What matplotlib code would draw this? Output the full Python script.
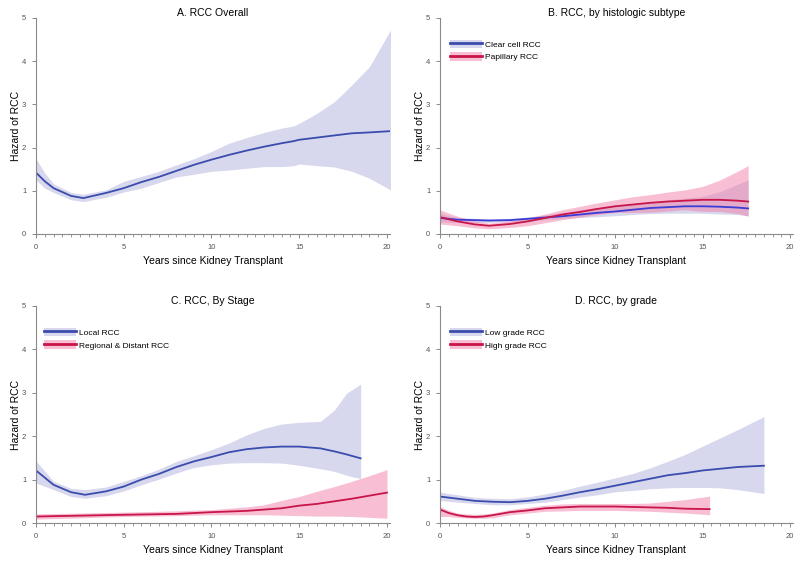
import matplotlib
matplotlib.use("Agg")
import matplotlib.pyplot as plt
from matplotlib.patches import Patch
from matplotlib.lines import Line2D
from matplotlib.ticker import MultipleLocator

plt.rcParams['font.family'] = ['Liberation Sans', 'DejaVu Sans']

# A. overall
xa = [0, 0.5, 1, 2, 2.7, 4, 5, 6, 7, 8, 9, 10, 11, 12, 13, 14, 14.7, 15, 16, 17, 18, 19, 20.2]
a_fit = [1.42, 1.22, 1.06, 0.88, 0.83, 0.95, 1.06, 1.2, 1.32, 1.46, 1.6, 1.72, 1.83, 1.93,
         2.02, 2.1, 2.15, 2.18, 2.23, 2.28, 2.33, 2.35, 2.38]
a_hi = [1.74, 1.41, 1.16, 0.96, 0.92, 1.02, 1.22, 1.33, 1.45, 1.6, 1.74, 1.91, 2.1, 2.23,
        2.35, 2.45, 2.5, 2.56, 2.79, 3.06, 3.45, 3.87, 4.72]
a_lo = [1.25, 1.06, 0.96, 0.79, 0.75, 0.85, 0.97, 1.06, 1.19, 1.32, 1.38, 1.45, 1.48, 1.52,
        1.56, 1.56, 1.58, 1.62, 1.58, 1.55, 1.45, 1.29, 1.02]

# B. histologic subtype
xb = [0, 0.5, 1, 2, 2.8, 4, 5, 6, 7, 8, 9, 10, 11, 12, 13, 14, 15, 16, 17, 17.6]
clear_fit = [0.37, 0.35, 0.33, 0.32, 0.31, 0.32, 0.35, 0.38, 0.41, 0.45, 0.49, 0.52, 0.56,
             0.6, 0.62, 0.64, 0.64, 0.63, 0.61, 0.59]
clear_hi = [0.48, 0.42, 0.38, 0.36, 0.35, 0.36, 0.39, 0.44, 0.5, 0.56, 0.61, 0.65, 0.7,
            0.74, 0.79, 0.83, 0.87, 0.98, 1.15, 1.25]
clear_lo = [0.27, 0.27, 0.27, 0.27, 0.27, 0.28, 0.3, 0.33, 0.36, 0.38, 0.4, 0.42, 0.45,
            0.47, 0.48, 0.48, 0.48, 0.46, 0.45, 0.42]
pap_fit = [0.39, 0.34, 0.29, 0.22, 0.19, 0.23, 0.29, 0.37, 0.45, 0.51, 0.58, 0.64, 0.68,
           0.72, 0.75, 0.77, 0.79, 0.79, 0.77, 0.75]
pap_hi = [0.56, 0.48, 0.41, 0.3, 0.25, 0.3, 0.37, 0.46, 0.56, 0.64, 0.72, 0.79, 0.86,
          0.91, 0.97, 1.02, 1.1, 1.25, 1.45, 1.58]
pap_lo = [0.23, 0.21, 0.19, 0.14, 0.12, 0.15, 0.19, 0.26, 0.33, 0.39, 0.45, 0.5, 0.5,
          0.5, 0.53, 0.56, 0.52, 0.52, 0.47, 0.41]

# C. stage
xc = [0, 1, 2, 2.8, 4, 5, 6, 7, 8, 9, 10, 11, 12, 13, 14, 15, 16.2, 17, 17.7, 18.5]
local_fit = [1.21, 0.88, 0.71, 0.65, 0.73, 0.84, 1.0, 1.13, 1.29, 1.42, 1.52, 1.63, 1.7,
             1.74, 1.76, 1.76, 1.72, 1.65, 1.58, 1.49]
local_hi = [1.43, 0.96, 0.8, 0.77, 0.83, 0.96, 1.09, 1.24, 1.42, 1.55, 1.69, 1.84, 2.03,
            2.18, 2.28, 2.32, 2.34, 2.6, 2.99, 3.2]
local_lo = [0.92, 0.77, 0.61, 0.57, 0.63, 0.74, 0.88, 1.01, 1.15, 1.28, 1.34, 1.38, 1.39,
            1.39, 1.38, 1.33, 1.25, 1.19, 1.1, 1.02]
xc2 = [0, 5, 8, 10, 12, 13, 14, 15, 16, 17, 18, 19, 20]
reg_fit = [0.15, 0.19, 0.21, 0.25, 0.28, 0.31, 0.34, 0.4, 0.44, 0.5, 0.56, 0.63, 0.7]
reg_hi = [0.21, 0.25, 0.28, 0.31, 0.37, 0.42, 0.52, 0.61, 0.73, 0.84, 0.96, 1.09, 1.23]
reg_lo = [0.09, 0.15, 0.17, 0.19, 0.19, 0.19, 0.18, 0.17, 0.16, 0.16, 0.15, 0.13, 0.11]

# D. grade
xd = [0, 1, 2, 3, 4, 5, 6, 7, 8, 9, 10, 11, 12, 13, 14, 15, 16, 17, 18.5]
low_fit = [0.61, 0.56, 0.51, 0.49, 0.48, 0.51, 0.56, 0.63, 0.71, 0.78, 0.86, 0.94, 1.02,
           1.1, 1.15, 1.21, 1.25, 1.29, 1.32]
low_hi = [0.71, 0.65, 0.59, 0.57, 0.56, 0.6, 0.67, 0.75, 0.85, 0.94, 1.04, 1.14, 1.27,
          1.42, 1.58, 1.77, 1.96, 2.15, 2.45]
low_lo = [0.52, 0.48, 0.45, 0.42, 0.42, 0.45, 0.48, 0.54, 0.6, 0.65, 0.72, 0.75, 0.79,
          0.81, 0.82, 0.82, 0.81, 0.77, 0.68]
xd2 = [0, 0.5, 1, 1.5, 2, 2.5, 3, 4, 5, 6, 7, 8, 9, 10, 11, 12, 13, 14, 15.4]
high_fit = [0.31, 0.23, 0.18, 0.15, 0.14, 0.15, 0.18, 0.25, 0.29, 0.34, 0.36, 0.38, 0.38,
            0.38, 0.37, 0.36, 0.35, 0.33, 0.32]
high_hi = [0.38, 0.29, 0.23, 0.21, 0.2, 0.21, 0.23, 0.31, 0.36, 0.41, 0.44, 0.45, 0.45,
           0.45, 0.45, 0.46, 0.5, 0.54, 0.62]
high_lo = [0.15, 0.15, 0.13, 0.12, 0.11, 0.11, 0.12, 0.19, 0.23, 0.27, 0.28, 0.29, 0.29,
           0.29, 0.28, 0.27, 0.25, 0.23, 0.19]

BLUE = '#3a4cad'
BLUE2 = '#3b3bd6'
RED = '#c8154a'
BAND_B = ('#a8a8d8', 0.45)
BAND_R = ('#f27fa8', 0.5)


def style_axes(ax, title):
    ax.set_xlim(0, 20.15)
    ax.set_ylim(0, 5)
    for s in ['top', 'right']:
        ax.spines[s].set_visible(False)
    for s in ['left', 'bottom']:
        ax.spines[s].set_color('#8a8a8a')
        ax.spines[s].set_linewidth(0.8)
    ax.set_xticks([0, 5, 10, 15, 20])
    ax.set_yticks([0, 1, 2, 3, 4, 5])
    ax.xaxis.set_minor_locator(MultipleLocator(0.5))
    ax.tick_params(axis='both', which='major', length=3, width=0.7, color='#8a8a8a',
                   labelsize=5.5, labelcolor='#555555', pad=4)
    ax.tick_params(axis='x', which='minor', length=2, width=0.6, color='#8a8a8a')
    ax.set_title(title, fontsize=7.5, pad=-1.5)
    ax.set_xlabel('Years since Kidney Transplant', fontsize=7.5, labelpad=4)
    ax.set_ylabel('Hazard of RCC', fontsize=7.5, labelpad=0.5)


def band(ax, x, lo, hi, fit, line_color, band_style):
    ax.fill_between(x, lo, hi, color=band_style[0], alpha=band_style[1], lw=0)
    ax.plot(x, fit, color=line_color, lw=1.3)


def legend(ax, labels, x0):
    handles = [
        (Patch(facecolor=BAND_B[0], alpha=BAND_B[1], lw=0), Line2D([], [], color=BLUE, lw=2)),
        (Patch(facecolor=BAND_R[0], alpha=BAND_R[1], lw=0), Line2D([], [], color=RED, lw=2)),
    ]
    ax.legend(handles, labels, loc='upper left', bbox_to_anchor=(x0, 0.9), frameon=False,
              fontsize=6, handlelength=3.8, handleheight=1.2, handletextpad=0.4,
              labelspacing=0.45, borderpad=0, borderaxespad=0)


fig = plt.figure(figsize=(8, 5.61), dpi=100)
axA = fig.add_axes([0.045, 0.583, 0.442, 0.385])
axB = fig.add_axes([0.55, 0.583, 0.441, 0.385])
axC = fig.add_axes([0.045, 0.0677, 0.442, 0.387])
axD = fig.add_axes([0.55, 0.0677, 0.441, 0.387])

band(axA, xa, a_lo, a_hi, a_fit, BLUE, BAND_B)
style_axes(axA, 'A. RCC Overall')

axB.fill_between(xb, clear_lo, clear_hi, color=BAND_B[0], alpha=BAND_B[1], lw=0)
axB.plot(xb, clear_fit, color=BLUE2, lw=1.3)
band(axB, xb, pap_lo, pap_hi, pap_fit, RED, BAND_R)
style_axes(axB, 'B. RCC, by histologic subtype')
legend(axB, ['Clear cell RCC', 'Papillary RCC'], 0.028)

band(axC, xc, local_lo, local_hi, local_fit, BLUE, BAND_B)
band(axC, xc2, reg_lo, reg_hi, reg_fit, RED, BAND_R)
style_axes(axC, 'C. RCC, By Stage')
legend(axC, ['Local RCC', 'Regional & Distant RCC'], 0.023)

band(axD, xd, low_lo, low_hi, low_fit, BLUE, BAND_B)
band(axD, xd2, high_lo, high_hi, high_fit, RED, BAND_R)
style_axes(axD, 'D. RCC, by grade')
legend(axD, ['Low grade RCC', 'High grade RCC'], 0.028)

fig.savefig('out.png', dpi=100)
